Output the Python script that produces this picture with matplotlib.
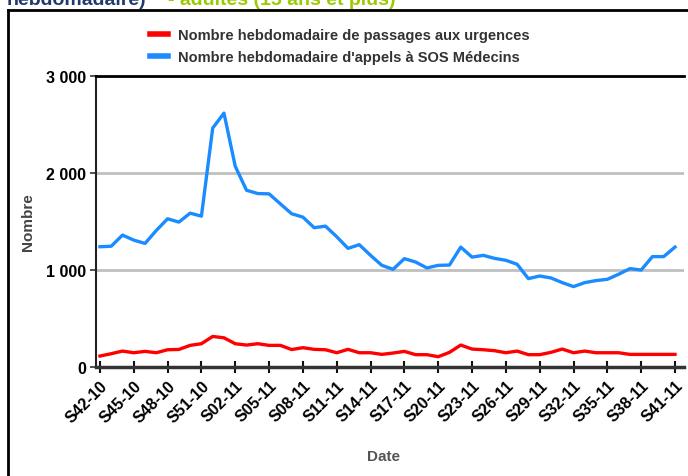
import matplotlib
matplotlib.use("Agg")
import matplotlib.pyplot as plt
from matplotlib.lines import Line2D
from matplotlib.ticker import FuncFormatter

plt.rcParams['font.family'] = ['Liberation Sans', 'DejaVu Sans']

# semaines S42-10 ... S41-11
weeks = [f"S{w:02d}-10" for w in range(42, 53)] + [f"S{w:02d}-11" for w in range(1, 42)]

urgences = [113, 137, 164, 147, 161, 147, 178, 181, 223, 240,
            315, 301, 240, 226, 240, 223, 223, 180, 199, 182,
            178, 147, 182, 147, 147, 130, 144, 161, 127, 127,
            106, 151, 226, 185, 178, 168, 147, 164, 127, 127,
            151, 185, 147, 164, 147, 147, 147, 130, 130, 130,
            130, 130]

sos_medecins = [1240, 1245, 1360, 1308, 1274, 1408, 1528, 1494, 1586, 1555,
                2463, 2617, 2069, 1822, 1788, 1785, 1682, 1580, 1545, 1436,
                1452, 1343, 1223, 1261, 1151, 1048, 1007, 1117, 1082, 1021,
                1048, 1051, 1236, 1133, 1151, 1120, 1100, 1059, 911, 938,
                918, 870, 829, 870, 891, 904, 956, 1014, 1000, 1138,
                1138, 1236]

label_urg = "Nombre hebdomadaire de passages aux urgences"
label_sos = "Nombre hebdomadaire d'appels à SOS Médecins"

W, H = 688, 477
fig = plt.figure(figsize=(W / 100, H / 100), dpi=100)

def fx(px):
    return px / W

def fy(py):
    return 1 - py / H

ax = fig.add_axes([fx(96), fy(368), fx(684) - fx(96), fy(77) - fy(368)])

x = list(range(len(weeks)))
l1, = ax.plot(x, urgences, color='#ff0000', lw=2.4, label=label_urg)
l2, = ax.plot(x, sos_medecins, color='#1a8cff', lw=2.4, label=label_sos)

ax.set_xlim(-0.35, 51.8)
ax.set_ylim(0, 3000)
ax.set_yticks([0, 1000, 2000, 3000])
ax.yaxis.set_major_formatter(FuncFormatter(lambda v, p: f"{int(v):,}".replace(",", " ")))
ax.grid(axis='y', color='#c0c0c0', lw=2)
ax.set_axisbelow(True)

ax.set_xticks(x[::3])
ax.set_xticklabels(weeks[::3], rotation=45, ha='right', va='top',
                   rotation_mode='anchor', fontsize=11.5, fontweight='bold')
for t in ax.get_yticklabels():
    t.set_fontweight('bold')
    t.set_fontsize(11.5)

ax.tick_params(axis='x', direction='inout', length=9, width=1.5, color='#111111', pad=3)
ax.tick_params(axis='y', direction='out', length=4, width=1.2, color='#333333', pad=3)

ax.spines['right'].set_visible(False)
ax.spines['top'].set_color('black')
ax.spines['top'].set_linewidth(2)
ax.spines['left'].set_color('#222222')
ax.spines['left'].set_linewidth(1.5)
ax.spines['bottom'].set_color('#333333')
ax.spines['bottom'].set_linewidth(2.5)

fig.text(fx(28), fy(222), "Nombre", rotation=90, ha='center', va='center',
         fontsize=11, fontweight='bold', color='#444444')
fig.text(fx(383), fy(457), "Date", ha='center', va='center',
         fontsize=11, fontweight='bold', color='#555555')

leg = fig.legend(handles=[l1, l2], loc='upper left', bbox_to_anchor=(fx(137), fy(16)),
                 frameon=False, handlelength=1.2, handletextpad=0.7, labelspacing=0.55,
                 prop={'weight': 'bold', 'size': 10.5})
for t in leg.get_texts():
    t.set_color('#333333')
for h in leg.legend_handles:
    h.set_linewidth(4)

# cadre extérieur
fig.add_artist(Line2D([fx(8), fx(8)], [fy(10.5), fy(480)], color='black', lw=2,
                      transform=fig.transFigure))
fig.add_artist(Line2D([fx(8), fx(690)], [fy(10.5), fy(10.5)], color='black', lw=2,
                      transform=fig.transFigure))

# titre coupé en haut
fig.text(fx(7), fy(5), "hebdomadaire)", ha='left', va='baseline',
         fontsize=14, fontweight='bold', color='#1f3a6b')
fig.text(fx(168), fy(5), "- adultes (15 ans et plus)", ha='left', va='baseline',
         fontsize=14, fontweight='bold', color='#99cc00')

fig.savefig("out.png", dpi=100)
